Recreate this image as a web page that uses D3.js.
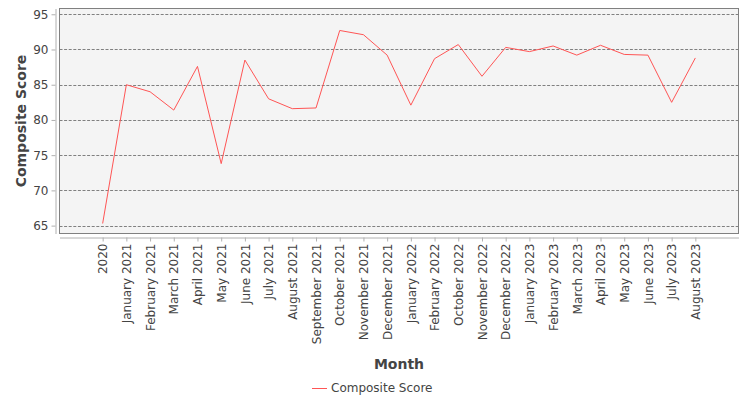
<!DOCTYPE html>
<html>
<head>
<meta charset="utf-8">
<script src="https://cdn.jsdelivr.net/npm/d3@7"></script>
<style>
  body { margin: 0; background: #fff; }
  svg { display: block; font-family: "DejaVu Sans", sans-serif; }
</style>
</head>
<body>
<svg></svg>
<script>
const months = [
  "2020", "January 2021", "February 2021", "March 2021", "April 2021", "May 2021",
  "June 2021", "July 2021", "August 2021", "September 2021", "October 2021",
  "November 2021", "December 2021", "January 2022", "February 2022", "October 2022",
  "November 2022", "December 2022", "January 2023", "February 2023", "March 2023",
  "April 2023", "May 2023", "June 2023", "July 2023", "August 2023"
];
const scores = [
  65.3, 85.0, 84.0, 81.4, 87.6, 73.8,
  88.5, 83.0, 81.6, 81.7, 92.7,
  92.1, 89.2, 82.1, 88.7, 90.7,
  86.2, 90.3, 89.7, 90.5, 89.2,
  90.6, 89.3, 89.2, 82.5, 88.8
];
const yTicks = [65, 70, 75, 80, 85, 90, 95];
const seriesName = "Composite Score";

const width = 750, height = 400;
const plot = { left: 59.5, top: 8.5, right: 738.5, bottom: 233.5 };
const LINE_COLOR = "#ff5555";
const TEXT_COLOR = "#444444";

const svg = d3.select("svg")
  .attr("width", width)
  .attr("height", height);

const x = d3.scalePoint()
  .domain(months)
  .range([plot.left, plot.right])
  .padding(1.82);

const y = d3.scaleLinear()
  .domain([63.88, 95.82])
  .range([plot.bottom, plot.top]);

// plot background
svg.append("rect")
  .attr("x", plot.left)
  .attr("y", plot.top)
  .attr("width", plot.right - plot.left)
  .attr("height", plot.bottom - plot.top)
  .attr("fill", "#f4f4f4");

// dashed gridlines
svg.append("g")
  .selectAll("line")
  .data(yTicks)
  .enter().append("line")
  .attr("x1", plot.left)
  .attr("x2", plot.right)
  .attr("y1", d => Math.round(y(d)) + 0.5)
  .attr("y2", d => Math.round(y(d)) + 0.5)
  .attr("stroke", "#808080")
  .attr("stroke-width", 1)
  .attr("stroke-dasharray", "3,1.6");

// series line
const line = d3.line()
  .x((d, i) => x(months[i]))
  .y(d => y(d));

svg.append("path")
  .datum(scores)
  .attr("d", line)
  .attr("fill", "none")
  .attr("stroke", LINE_COLOR)
  .attr("stroke-width", 1);

// plot border
svg.append("rect")
  .attr("x", plot.left)
  .attr("y", plot.top)
  .attr("width", plot.right - plot.left)
  .attr("height", plot.bottom - plot.top)
  .attr("fill", "none")
  .attr("stroke", "#808080")
  .attr("stroke-width", 1);

// y axis (offset to the left)
const yAxis = svg.append("g")
  .attr("transform", "translate(55.5,0)")
  .call(d3.axisLeft(y).tickValues(yTicks).tickSize(4).tickPadding(3).tickSizeOuter(0));
yAxis.select(".domain").attr("stroke", "#b0b0b0");
yAxis.selectAll(".tick line").attr("stroke", "#b0b0b0");
yAxis.selectAll(".tick text")
  .attr("fill", TEXT_COLOR)
  .style("font-size", "12px")
  .style("font-family", "DejaVu Sans");

// x axis (offset below)
const xAxis = svg.append("g")
  .attr("transform", "translate(0,237.5)")
  .call(d3.axisBottom(x).tickSize(4).tickSizeOuter(0));
xAxis.select(".domain").attr("stroke", "#b0b0b0");
xAxis.selectAll(".tick line").attr("stroke", "#b0b0b0");
xAxis.selectAll(".tick text")
  .attr("fill", TEXT_COLOR)
  .style("font-size", "12px")
  .style("font-family", "DejaVu Sans")
  .attr("text-anchor", "end")
  .attr("transform", "rotate(-90)")
  .attr("x", -6)
  .attr("y", 0)
  .attr("dy", "0.35em");

// axis titles
svg.append("text")
  .attr("transform", `translate(26,${(plot.top + plot.bottom) / 2}) rotate(-90)`)
  .attr("text-anchor", "middle")
  .attr("fill", TEXT_COLOR)
  .style("font-size", "14px")
  .style("font-weight", "bold")
  .text("Composite Score");

svg.append("text")
  .attr("x", (plot.left + plot.right) / 2)
  .attr("y", 369)
  .attr("text-anchor", "middle")
  .attr("fill", TEXT_COLOR)
  .style("font-size", "14px")
  .style("font-weight", "bold")
  .text("Month");

// legend
const legend = svg.append("g").attr("transform", "translate(312,388)");
legend.append("line")
  .attr("x1", 0).attr("x2", 15)
  .attr("y1", 0.5).attr("y2", 0.5)
  .attr("stroke", LINE_COLOR)
  .attr("stroke-width", 1);
legend.append("text")
  .attr("x", 19)
  .attr("y", 0)
  .attr("dy", "0.35em")
  .attr("fill", TEXT_COLOR)
  .style("font-size", "12px")
  .text(seriesName);
</script>
</body>
</html>
